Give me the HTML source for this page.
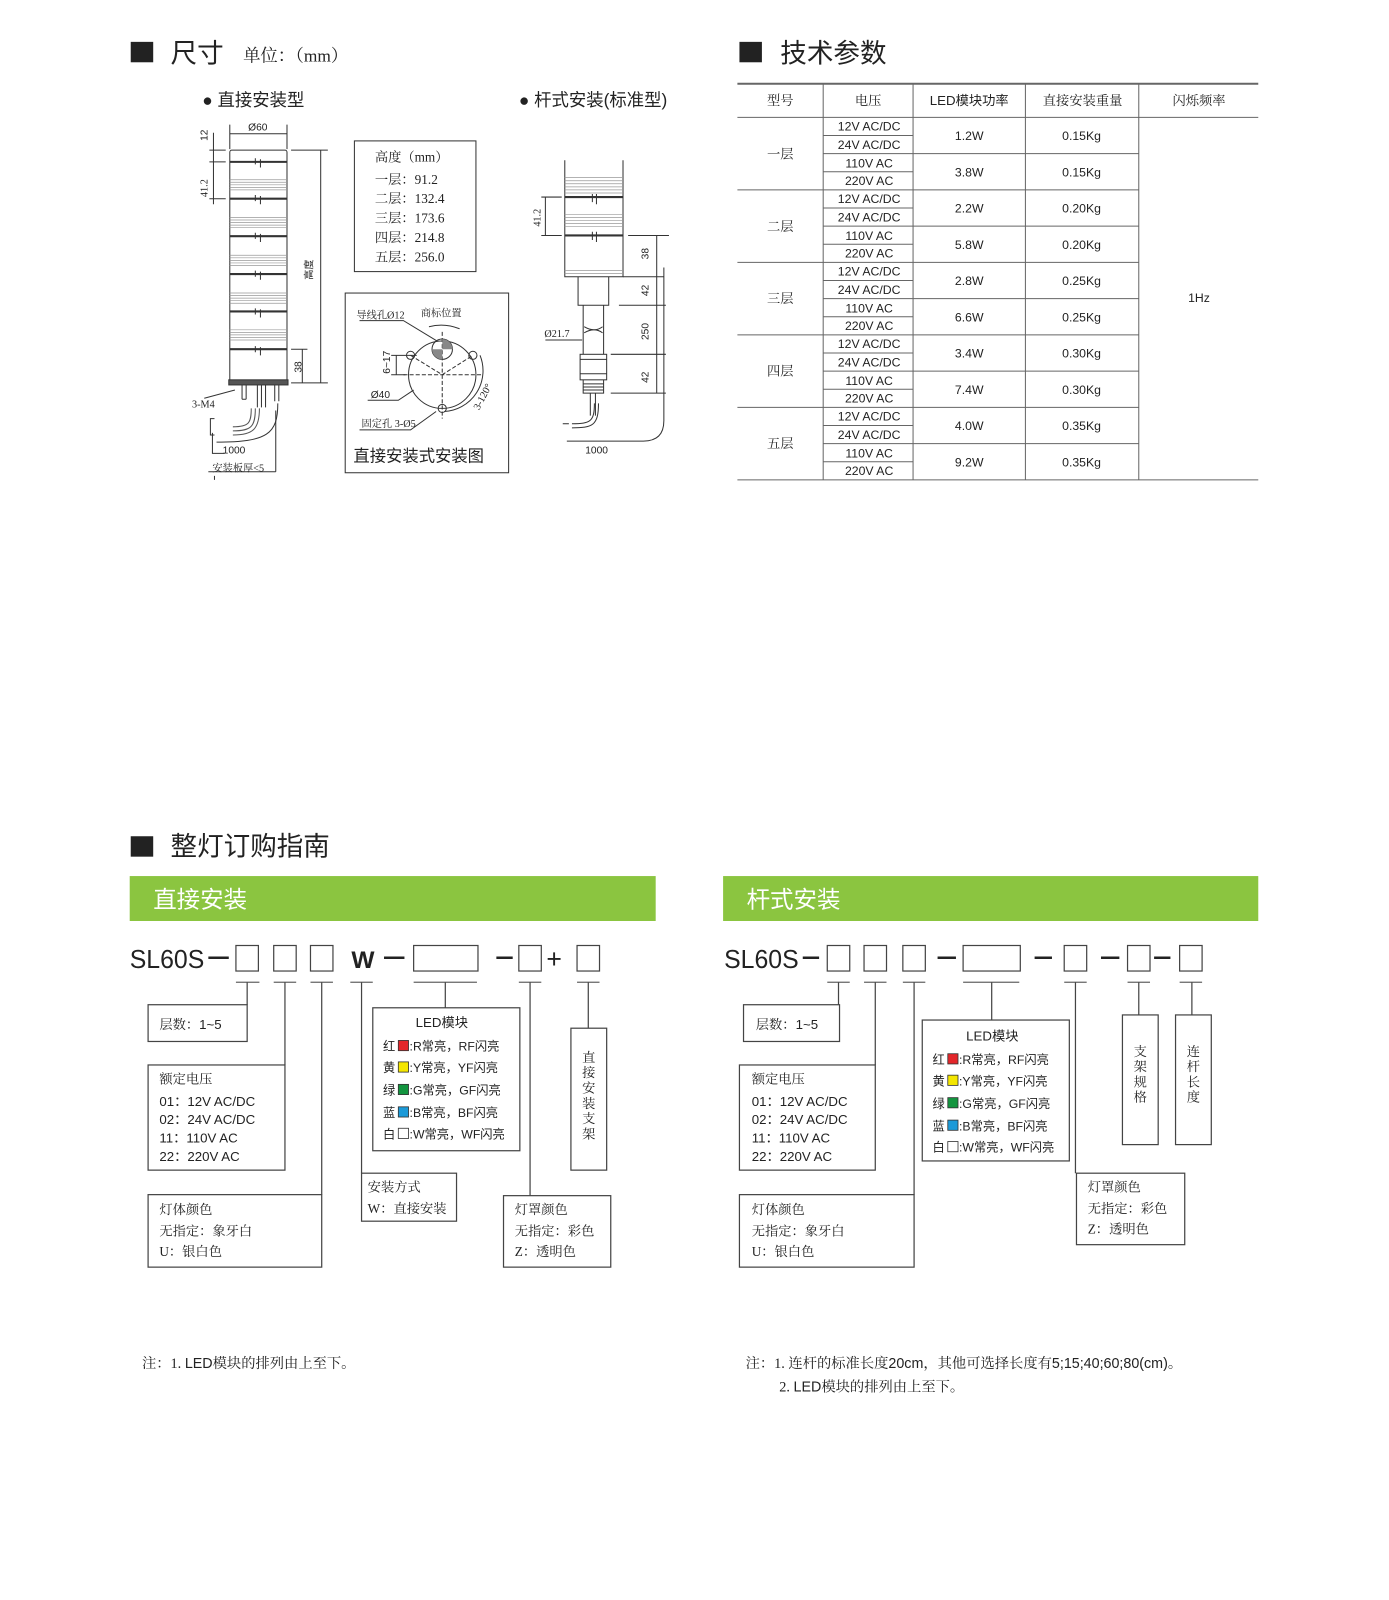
<!DOCTYPE html>
<html><head><meta charset="utf-8">
<style>
html,body{margin:0;padding:0;background:#fff;width:1389px;height:1600px;overflow:hidden}
svg{display:block}
text{font-family:"Liberation Sans","Noto Sans CJK SC",sans-serif;fill:#222}
.sf{font-family:"Liberation Serif","Noto Serif CJK SC",serif}
</style></head><body>
<svg width="1389" height="1600" viewBox="0 0 1360 1567" preserveAspectRatio="none" xmlns="http://www.w3.org/2000/svg">
<!-- headings -->
<rect x="128" y="41" width="22" height="20" fill="#222"/>
<text x="167" y="61" font-size="26">尺寸</text>
<text x="238" y="60" font-size="17" class="sf">单位：（mm）</text>
<rect x="724" y="41" width="22" height="20" fill="#222"/>
<text x="764" y="61" font-size="26">技术参数</text>
<text x="198" y="104" font-size="17">● 直接安装型</text>
<text x="508" y="104" font-size="17">● 杆式安装(标准型)</text>

<!-- left tower drawing -->
<g stroke="#333" fill="none" stroke-width="1">
<rect x="225" y="147" width="56" height="228" rx="2"/>
<g stroke-width="2"><line x1="225" y1="158.5" x2="281" y2="158.5"/><line x1="225" y1="194.6" x2="281" y2="194.6"/><line x1="225" y1="231.3" x2="281" y2="231.3"/><line x1="225" y1="268.4" x2="281" y2="268.4"/><line x1="225" y1="305" x2="281" y2="305"/><line x1="225" y1="342" x2="281" y2="342"/></g>
<g stroke="#999" stroke-width="0.7">
<path d="M225 176H281M225 178.5H281M225 181H281M225 183.5H281M225 186H281"/>
<path d="M225 213H281M225 215.5H281M225 218H281M225 220.5H281M225 223H281"/>
<path d="M225 250H281M225 252.5H281M225 255H281M225 257.5H281M225 260H281"/>
<path d="M225 287H281M225 289.5H281M225 292H281M225 294.5H281M225 297H281"/>
<path d="M225 323H281M225 325.5H281M225 328H281M225 330.5H281M225 333H281"/>
</g>
<path d="M250 155v6M255 156v8M250 191v6M255 192v8M250 228v6M255 229v8M250 265v6M255 266v8M250 302v6M255 303v8M250 339v6M255 340v8"/>
<rect x="224" y="372" width="58" height="5" fill="#555"/>
<path d="M237 377v14M241 377v14M237 391h4M252 377v22M256 377v22M260 377v22M269 377v16M273 377v16"/>
<path d="M246 400c0 14 -2 18 -18 18M250 400c0 18 -4 22 -22 22M254 400c0 20 -6 26 -26 26" stroke="#555"/>
<path d="M210 410h-4v16h4" />
<path d="M208 424v20h12"/>
<path d="M272 395c0 30 -10 38 -60 38"/>
<path d="M225 122v24M281 122v24M225 131h56"/>
<path d="M205 147h16M205 158.5h16M205 194.6h16M209 130v70"/>
<path d="M285 147h36M285 375h36M314 147v228"/>
<path d="M285 342h16M296 342v33"/>
<path d="M200 390l30 -8M210 470v-4"/>
<path d="M204 462h66M270 462v-60"/>
</g>
<text x="243" y="128" font-size="10">Ø60</text>
<text transform="translate(203,138) rotate(-90)" font-size="10">12</text>
<text transform="translate(203,193) rotate(-90)" font-size="10" class="sf">41.2</text>
<text transform="translate(306,274) rotate(-90)" font-size="10">高度</text>
<text transform="translate(295,365) rotate(-90)" font-size="10">38</text>
<text x="188" y="399" font-size="10" class="sf">3-M4</text>
<text x="218" y="444" font-size="10">1000</text>
<text x="208" y="462" font-size="10" class="sf">安装板厚&lt;5</text>

<!-- height box -->
<rect x="347" y="138" width="119" height="128" fill="none" stroke="#333"/>
<g class="sf" font-size="13">
<text x="367" y="158" class="sf">高度（mm）</text>
<text x="367" y="180" class="sf">一层：91.2</text>
<text x="367" y="199" class="sf">二层：132.4</text>
<text x="367" y="218" class="sf">三层：173.6</text>
<text x="367" y="237" class="sf">四层：214.8</text>
<text x="367" y="256" class="sf">五层：256.0</text>
</g>

<!-- mount box -->
<rect x="338" y="287" width="160" height="176" fill="none" stroke="#333"/>
<g stroke="#333" fill="none" stroke-width="1">
<circle cx="433" cy="367" r="33"/>
<circle cx="433" cy="342" r="10"/>
<path d="M433 332v20h-10a10 10 0 0 0 10 10" fill="#888" stroke="none" opacity="0"/>
<circle cx="402" cy="348" r="4"/><circle cx="463" cy="348" r="4"/><circle cx="433" cy="400" r="4"/>
<path d="M395 367h78M433 325v85M402 348l31 19l30 -19M433 367v33" stroke-dasharray="4 2"/>
<path d="M383 348h25M383 367h14M388 348v19"/>
<path d="M352 314h43l33 20"/>
<path d="M420 320q15 -4 30 2"/>
<path d="M360 392h30l15 -10"/>
<path d="M352 421h50l25 -18"/>
<path d="M470 348a40 40 0 0 1 -35 55"/>
</g>
<path d="M433 332a10 10 0 0 1 10 10h-10z M433 342h-10a10 10 0 0 0 10 10z" fill="#888"/>
<text x="349" y="312" font-size="10" class="sf">导线孔Ø12</text>
<text x="412" y="310" font-size="10" class="sf">商标位置</text>
<text transform="translate(382,366) rotate(-90)" font-size="10">6~17</text>
<text x="363" y="390" font-size="10">Ø40</text>
<text x="354" y="418" font-size="10" class="sf">固定孔 3-Ø5</text>
<text transform="translate(469,402) rotate(-62)" font-size="10" class="sf">3-120°</text>
<text x="346" y="452" font-size="16">直接安装式安装图</text>

<!-- pole drawing -->
<g stroke="#333" fill="none" stroke-width="1">
<path d="M553 157v114h57v-114"/>
<g stroke="#999" stroke-width="0.7"><path d="M553 174h57M553 177h57M553 180h57M553 183h57M553 186h57M553 189h57"/><path d="M553 210h57M553 213h57M553 216h57M553 219h57M553 222h57"/><path d="M553 265h57M553 268h57"/></g>
<g stroke-width="2"><path d="M553 193h57M553 230.6h57"/></g>
<path d="M580 190v8M584 190v10M580 227v8M584 227v10"/>
<path d="M566 271v28h30v-28M571 299v48M591 299v48M572 320q10 6 18 0M572 326q10 -6 18 0"/>
<rect x="568" y="347" width="26" height="25"/>
<path d="M568 352h26M568 366h26"/>
<path d="M571 372v13h20v-13M571 376h20M571 379h20M571 382h20"/>
<path d="M578 385v22M583 385v22"/>
<path d="M582 395c0 18 -4 20 -22 20M586 395c0 22 -6 24 -26 24"/>
<path d="M551 415h6"/>
<path d="M530 193h20M530 230.6h20M534 193v38"/>
<path d="M615 230.6h40M610 271h40M606 299h46M598 347h54M598 385h54M643 231v154"/>
<path d="M650 262v150q0 20 -20 20h-75"/>
<path d="M534 333h36"/>
</g>
<text transform="translate(529,222) rotate(-90)" font-size="10" class="sf">41.2</text>
<text transform="translate(635,254) rotate(-90)" font-size="10">38</text>
<text transform="translate(635,290) rotate(-90)" font-size="10">42</text>
<text transform="translate(635,333) rotate(-90)" font-size="10">250</text>
<text transform="translate(635,375) rotate(-90)" font-size="10">42</text>
<text x="533" y="330" font-size="10" class="sf">Ø21.7</text>
<text x="573" y="444" font-size="10">1000</text>

<!-- table -->
<g stroke="#666" fill="none">
<line x1="722" y1="82" x2="1232" y2="82" stroke-width="2"/>
<line x1="722" y1="115" x2="1232" y2="115"/>
<line x1="722" y1="470" x2="1232" y2="470"/>
<path d="M806 82V470M894 82V470M1004 82V470M1115 82V470"/>
<path d="M806 132.75h88M806 168.25h88M806 203.75h88M806 239.25h88M806 274.75h88M806 310.25h88M806 345.75h88M806 381.25h88M806 416.75h88M806 452.25h88"/>
<path d="M806 150.5h309M806 221.5h309M806 292.5h309M806 363.5h309M806 434.5h309"/>
<path d="M722 186h393M722 257h393M722 328h393M722 399h393"/>
</g>
<g font-size="13" text-anchor="middle" fill="#333">
<text x="764" y="103" class="sf">型号</text><text x="850" y="103" class="sf">电压</text><text x="949" y="103">LED模块功率</text><text x="1060" y="103" class="sf">直接安装重量</text><text x="1174" y="103" class="sf">闪烁频率</text>
<text x="764" y="155" class="sf">一层</text><text x="764" y="226" class="sf">二层</text><text x="764" y="297" class="sf">三层</text><text x="764" y="368" class="sf">四层</text><text x="764" y="439" class="sf">五层</text>
</g>
<g font-size="12" text-anchor="middle">
<text x="851" y="128">12V AC/DC</text><text x="851" y="146">24V AC/DC</text><text x="851" y="164">110V AC</text><text x="851" y="181">220V AC</text>
<text x="851" y="199">12V AC/DC</text><text x="851" y="217">24V AC/DC</text><text x="851" y="235">110V AC</text><text x="851" y="252">220V AC</text>
<text x="851" y="270">12V AC/DC</text><text x="851" y="288">24V AC/DC</text><text x="851" y="306">110V AC</text><text x="851" y="323">220V AC</text>
<text x="851" y="341">12V AC/DC</text><text x="851" y="359">24V AC/DC</text><text x="851" y="377">110V AC</text><text x="851" y="394">220V AC</text>
<text x="851" y="412">12V AC/DC</text><text x="851" y="430">24V AC/DC</text><text x="851" y="448">110V AC</text><text x="851" y="465">220V AC</text>
<text x="949" y="137">1.2W</text><text x="949" y="173">3.8W</text><text x="949" y="208">2.2W</text><text x="949" y="244">5.8W</text><text x="949" y="279">2.8W</text><text x="949" y="315">6.6W</text><text x="949" y="350">3.4W</text><text x="949" y="386">7.4W</text><text x="949" y="421">4.0W</text><text x="949" y="457">9.2W</text>
<text x="1059" y="137">0.15Kg</text><text x="1059" y="173">0.15Kg</text><text x="1059" y="208">0.20Kg</text><text x="1059" y="244">0.20Kg</text><text x="1059" y="279">0.25Kg</text><text x="1059" y="315">0.25Kg</text><text x="1059" y="350">0.30Kg</text><text x="1059" y="386">0.30Kg</text><text x="1059" y="421">0.35Kg</text><text x="1059" y="457">0.35Kg</text>
<text x="1174" y="296">1Hz</text>
</g>

<!-- ordering guide -->
<rect x="128" y="819" width="22" height="20" fill="#222"/>
<text x="167" y="838" font-size="26">整灯订购指南</text>
<rect x="127" y="858" width="515" height="44" fill="#8bc540"/>
<text x="150" y="889" font-size="23" style="fill:#fff">直接安装</text>
<rect x="708" y="858" width="524" height="44" fill="#8bc540"/>
<text x="731" y="889" font-size="23" style="fill:#fff">杆式安装</text>

<g font-size="25"><text x="127" y="948" textLength="73" lengthAdjust="spacingAndGlyphs">SL60S</text>
<text x="709" y="948" textLength="73" lengthAdjust="spacingAndGlyphs">SL60S</text>
<text x="344" y="948" font-weight="bold" font-size="24">W</text>
<text x="535" y="948" font-size="26">+</text></g>

<g stroke="#444" fill="none" stroke-width="1.2">
<!-- left -->
<path d="M204 938h20M376 938h20M486 938h16" stroke-width="2.5" stroke="#222"/>
<rect x="231" y="926" width="22" height="25"/><rect x="268" y="926" width="22" height="25"/><rect x="304" y="926" width="22" height="25"/>
<rect x="405" y="926" width="63" height="25"/><rect x="508" y="926" width="22" height="25"/><rect x="565" y="926" width="22" height="25"/>
<path d="M231 962h23M268 962h22M304 962h22M343 962h22M405 962h62M508 962h22M565 962h22" stroke="#666"/>
<path d="M242 962v22M279 962v81M315 962v208M354 962v187M436 962v25M519 962v209M576 962v45"/>
<rect x="145" y="984" width="97" height="36"/>
<rect x="145" y="1043" width="134" height="103"/>
<rect x="145" y="1170" width="170" height="71"/>
<rect x="354" y="1149" width="93" height="47"/>
<rect x="365" y="987" width="144" height="140"/>
<rect x="493" y="1171" width="105" height="70"/>
<rect x="559" y="1007" width="35" height="139"/>
<!-- right -->
<path d="M786 938h16M918 938h18M1013 938h17M1078 938h18M1130 938h16" stroke-width="2.5" stroke="#222"/>
<rect x="810" y="926" width="22" height="25"/><rect x="846" y="926" width="22" height="25"/><rect x="884" y="926" width="22" height="25"/>
<rect x="943" y="926" width="56" height="25"/><rect x="1042" y="926" width="22" height="25"/><rect x="1104" y="926" width="22" height="25"/><rect x="1155" y="926" width="22" height="25"/>
<path d="M810 962h22M846 962h22M884 962h22M943 962h55M1042 962h22M1104 962h22M1155 962h22" stroke="#666"/>
<path d="M821 962v22M857 962v81M895 962v208M971 962v37M1053 962v187M1115 962v32M1167 962v32"/>
<rect x="728" y="984" width="94" height="36"/>
<rect x="724" y="1043" width="133" height="103"/>
<rect x="724" y="1170" width="171" height="71"/>
<rect x="903" y="999" width="144" height="138"/>
<rect x="1054" y="1149" width="106" height="70"/>
<rect x="1099" y="994" width="35" height="127"/>
<rect x="1151" y="994" width="35" height="127"/>
</g>

<g font-size="13">
<!-- left texts -->
<text x="156" y="1008" class="sf">层数：<tspan font-family="Liberation Sans">1~5</tspan></text>
<text x="156" y="1061" class="sf">额定电压</text>
<text x="156" y="1083">01：12V  AC/DC</text>
<text x="156" y="1101">02：24V  AC/DC</text>
<text x="156" y="1119">11：110V  AC</text>
<text x="156" y="1137">22：220V  AC</text>
<text x="156" y="1189" class="sf">灯体颜色</text>
<text x="156" y="1210" class="sf">无指定：象牙白</text>
<text x="156" y="1230" class="sf">U：银白色</text>
<text x="360" y="1167" class="sf">安装方式</text>
<text x="360" y="1188" class="sf">W：直接安装</text>
<text x="504" y="1189" class="sf">灯罩颜色</text>
<text x="504" y="1210" class="sf">无指定：彩色</text>
<text x="504" y="1230" class="sf">Z：透明色</text>
<text x="407" y="1006">LED模块</text>
<g font-size="12">
<text x="375" y="1029">红<tspan dx="14">:R常亮，RF闪亮</tspan></text>
<text x="375" y="1050">黄<tspan dx="14">:Y常亮，YF闪亮</tspan></text>
<text x="375" y="1072">绿<tspan dx="14">:G常亮，GF闪亮</tspan></text>
<text x="375" y="1094">蓝<tspan dx="14">:B常亮，BF闪亮</tspan></text>
<text x="375" y="1115">白<tspan dx="14">:W常亮，WF闪亮</tspan></text>
</g>
<text x="570" y="1040" class="sf" font-size="13"><tspan x="570" dy="0">直</tspan><tspan x="570" dy="15">接</tspan><tspan x="570" dy="15">安</tspan><tspan x="570" dy="15">装</tspan><tspan x="570" dy="15">支</tspan><tspan x="570" dy="15">架</tspan></text>
<!-- right texts -->
<text x="740" y="1008" class="sf">层数：<tspan font-family="Liberation Sans">1~5</tspan></text>
<text x="736" y="1061" class="sf">额定电压</text>
<text x="736" y="1083">01：12V  AC/DC</text>
<text x="736" y="1101">02：24V  AC/DC</text>
<text x="736" y="1119">11：110V  AC</text>
<text x="736" y="1137">22：220V  AC</text>
<text x="736" y="1189" class="sf">灯体颜色</text>
<text x="736" y="1210" class="sf">无指定：象牙白</text>
<text x="736" y="1230" class="sf">U：银白色</text>
<text x="1065" y="1167" class="sf">灯罩颜色</text>
<text x="1065" y="1188" class="sf">无指定：彩色</text>
<text x="1065" y="1208" class="sf">Z：透明色</text>
<text x="946" y="1019">LED模块</text>
<g font-size="12">
<text x="913" y="1042">红<tspan dx="14">:R常亮，RF闪亮</tspan></text>
<text x="913" y="1063">黄<tspan dx="14">:Y常亮，YF闪亮</tspan></text>
<text x="913" y="1085">绿<tspan dx="14">:G常亮，GF闪亮</tspan></text>
<text x="913" y="1107">蓝<tspan dx="14">:B常亮，BF闪亮</tspan></text>
<text x="913" y="1128">白<tspan dx="14">:W常亮，WF闪亮</tspan></text>
</g>
<text x="1110" y="1034" class="sf"><tspan x="1110" dy="0">支</tspan><tspan x="1110" dy="15">架</tspan><tspan x="1110" dy="15">规</tspan><tspan x="1110" dy="15">格</tspan></text>
<text x="1162" y="1034" class="sf"><tspan x="1162" dy="0">连</tspan><tspan x="1162" dy="15">杆</tspan><tspan x="1162" dy="15">长</tspan><tspan x="1162" dy="15">度</tspan></text>
</g>
<!-- color squares -->
<g stroke="#333" stroke-width="0.8">
<rect x="390" y="1019" width="10" height="10" fill="#e3262a"/>
<rect x="390" y="1040" width="10" height="10" fill="#f4e600"/>
<rect x="390" y="1062" width="10" height="10" fill="#13953f"/>
<rect x="390" y="1084" width="10" height="10" fill="#1c9ad8"/>
<rect x="390" y="1105" width="10" height="10" fill="#fff"/>
<rect x="928" y="1032" width="10" height="10" fill="#e3262a"/>
<rect x="928" y="1053" width="10" height="10" fill="#f4e600"/>
<rect x="928" y="1075" width="10" height="10" fill="#13953f"/>
<rect x="928" y="1097" width="10" height="10" fill="#1c9ad8"/>
<rect x="928" y="1118" width="10" height="10" fill="#fff"/>
</g>

<g font-size="14">
<text x="139" y="1340" class="sf">注：1. <tspan font-family="Liberation Sans">LED</tspan>模块的排列由上至下。</text>
<text x="730" y="1340" class="sf">注：1. 连杆的标准长度<tspan font-family="Liberation Sans">20cm</tspan>，其他可选择长度有<tspan font-family="Liberation Sans">5;15;40;60;80(cm)</tspan>。</text>
<text x="763" y="1363" class="sf">2. <tspan font-family="Liberation Sans">LED</tspan>模块的排列由上至下。</text>
</g>
</svg>
</body></html>
